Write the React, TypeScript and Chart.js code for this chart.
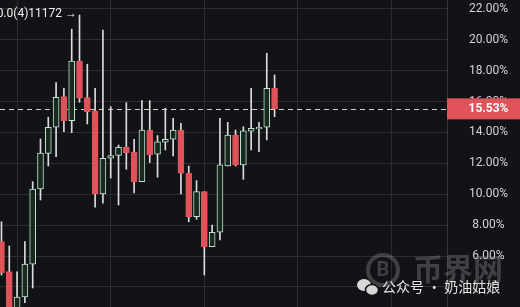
import React, { useEffect, useRef } from 'react';
import { Chart, registerables } from 'chart.js';

Chart.register(...registerables);

// ---- data (percent values) ----
const opens = [6.93, 4.99, 2.5, 3.35, 5.48, 10.34, 12.65, 14.34, 16.32, 14.77, 18.63, 16.26, 15.41, 10.02, 12.33, 12.52, 13.04, 12.74, 10.81, 14.16, 12.59, 13.37, 13.56, 14.16, 11.36, 8.55, 10.17, 6.61, 7.54, 11.83, 13.84, 11.9, 14.08, 14.23, 14.34, 16.86];
const highs = [8.22, 6.65, 4.97, 6.93, 10.81, 13.58, 14.99, 17.23, 16.86, 20.69, 21.61, 18.42, 16.86, 20.64, 15.67, 13.19, 15.93, 13.56, 16.06, 16.06, 13.8, 15.57, 14.92, 14.6, 11.83, 10.88, 10.17, 8.01, 14.92, 14.66, 14.16, 14.38, 16.86, 14.66, 19.13, 17.73];
const lows = [4.77, 2.3, 2.4, 2.98, 3.93, 9.63, 11.83, 12.43, 14.05, 13.99, 15.96, 14.55, 9.16, 9.42, 11.05, 9.31, 11.62, 10.08, 10.81, 12.05, 11.1, 12.87, 12.48, 10.02, 8.22, 8.38, 4.77, 6.61, 7.04, 11.83, 11.83, 10.97, 12.87, 12.76, 13.52, 15.02];
const closes = [4.92, 2.5, 3.35, 5.48, 10.34, 12.67, 14.34, 16.28, 14.77, 18.63, 16.22, 15.35, 10.02, 12.33, 12.5, 13.04, 12.69, 10.81, 14.16, 12.54, 13.39, 13.56, 14.16, 11.36, 8.55, 10.17, 6.61, 7.54, 11.9, 13.84, 11.9, 14.1, 14.27, 14.34, 16.86, 15.53];
const yTickValues = [4, 6, 8, 10, 12, 14, 16, 18, 20, 22];
const hiddenTickValues = [4];
const xGridSlots = [2, 14, 26, 38, 50];
const lastPrice = 15.53;
const lastPriceLabel = '15.53%';
const highMarkerLabel = '0.0(4)11172 →';
const watermarkBrand = '币界网';
const watermarkAccount = '公众号 · 奶油姑娘';

const BG = '#121316';
const GRID = '#2c2d31';
const RED = '#e0535a';
const GREEN_EDGE = '#bfe3cf';
const GREEN_FILL = '#18291f';
const WICK = '#dcdcdc';
const FONT = 'Roboto, "Noto Sans", sans-serif';
const CJK = '"Noto Sans CJK SC", "Noto Sans", sans-serif';

const overlay = {
  id: 'overlay',
  beforeDraw(chart: any) {
    const { ctx, width, height } = chart;
    ctx.save();
    ctx.fillStyle = BG;
    ctx.fillRect(0, 0, width, height);
    ctx.restore();
  },
  beforeDatasetsDraw(chart: any) {
    const { ctx, chartArea } = chart;
    const y = Math.round(chart.scales.y.getPixelForValue(lastPrice)) + 0.5;
    ctx.save();
    ctx.strokeStyle = 'rgba(245,225,225,0.9)';
    ctx.lineWidth = 1;
    ctx.setLineDash([5, 4]);
    ctx.beginPath();
    ctx.moveTo(chartArea.left, y);
    ctx.lineTo(chartArea.right, y);
    ctx.stroke();
    ctx.restore();
  },
  afterDraw(chart: any) {
    const { ctx, chartArea, width } = chart;
    const ys = chart.scales.y;
    const xs = chart.scales.x;
    ctx.save();
    // price box
    const py = ys.getPixelForValue(lastPrice);
    ctx.fillStyle = RED;
    ctx.fillRect(chartArea.right, py - 10.5, width - chartArea.right, 21);
    ctx.fillStyle = '#ffffff';
    ctx.font = `bold 12px ${FONT}`;
    ctx.textAlign = 'center';
    ctx.textBaseline = 'middle';
    ctx.fillText(lastPriceLabel, chartArea.right + 41.5, py + 0.5);

    // high marker
    let hi = 0;
    highs.forEach((h, i) => { if (h > highs[hi]) hi = i; });
    ctx.fillStyle = '#eeeeee';
    ctx.font = `12px ${FONT}`;
    ctx.textAlign = 'right';
    ctx.fillText(highMarkerLabel, xs.getPixelForValue(hi) - 2.5, ys.getPixelForValue(highs[hi]) - 0.5);

    // watermark
    ctx.strokeStyle = 'rgba(150,150,150,0.35)';
    ctx.lineWidth = 4;
    ctx.beginPath();
    ctx.arc(383, 270, 15, 0, Math.PI * 2);
    ctx.stroke();
    ctx.fillStyle = 'rgba(150,150,150,0.35)';
    ctx.font = `bold 20px ${FONT}`;
    ctx.textAlign = 'center';
    ctx.fillText('B', 383, 271);
    ctx.font = `bold 30px ${CJK}`;
    ctx.textAlign = 'left';
    ctx.fillText(watermarkBrand, 413, 269);
    // wechat icon
    ctx.fillStyle = '#d8d8d8';
    ctx.beginPath();
    ctx.ellipse(364, 285, 7, 6, 0, 0, Math.PI * 2);
    ctx.fill();
    ctx.strokeStyle = BG;
    ctx.lineWidth = 1.5;
    ctx.beginPath();
    ctx.ellipse(372, 290, 6.5, 5.5, 0, 0, Math.PI * 2);
    ctx.fill();
    ctx.stroke();
    ctx.fillStyle = '#e6e6e6';
    ctx.font = `14px ${CJK}`;
    ctx.textAlign = 'left';
    ctx.fillText(watermarkAccount, 382, 287);
    ctx.restore();
  },
};

export default function App() {
  const ref = useRef<HTMLCanvasElement | null>(null);

  useEffect(() => {
    if (!ref.current) return;
    const idx = opens.map((_, i) => i);
    const up = idx.map((i) => closes[i] >= opens[i]);
    const chart = new Chart(ref.current, {
      type: 'bar',
      data: {
        datasets: [
          {
            label: 'body',
            data: idx.map((i) => ({ x: i, y: [opens[i], closes[i]] })) as any,
            backgroundColor: idx.map((i) => (up[i] ? GREEN_FILL : RED)),
            borderColor: idx.map((i) => (up[i] ? GREEN_EDGE : RED)),
            borderWidth: 1,
            borderSkipped: false,
            barThickness: 6,
            grouped: false,
            order: 1,
          } as any,
          {
            label: 'wick',
            data: idx.map((i) => ({ x: i, y: [lows[i], highs[i]] })) as any,
            backgroundColor: WICK,
            borderWidth: 0,
            barThickness: 1,
            grouped: false,
            order: 2,
          } as any,
        ],
      },
      options: {
        responsive: false,
        animation: false,
        devicePixelRatio: 1,
        layout: { padding: 0, autoPadding: false },
        plugins: { legend: { display: false }, tooltip: { enabled: false } },
        scales: {
          x: {
            type: 'linear',
            min: -0.19,
            max: 57.1,
            offset: false,
            grid: { color: GRID, offset: false, drawTicks: false },
            border: { display: false },
            ticks: { display: false },
            afterBuildTicks: (s: any) => { s.ticks = xGridSlots.map((v) => ({ value: v })); },
            afterFit: (s: any) => { s.height = 0; s.paddingLeft = 0; s.paddingRight = 0; },
          },
          y: {
            type: 'linear',
            position: 'right',
            min: 2.7,
            max: 22.58,
            grid: { color: GRID, drawTicks: false },
            border: { display: true, color: '#35363a' },
            ticks: {
              color: '#d2d2d2',
              font: { family: FONT, size: 12 },
              padding: 22,
              crossAlign: 'center',
              callback: (v: any) => (hiddenTickValues.includes(Number(v)) ? '' : Number(v).toFixed(2) + '%'),
            },
            afterBuildTicks: (s: any) => { s.ticks = yTickValues.map((v) => ({ value: v })); },
            afterFit: (s: any) => { s.width = 73; s.paddingTop = 0; s.paddingBottom = 0; },
          },
        },
      } as any,
      plugins: [overlay],
    });
    return () => chart.destroy();
  }, []);

  return (
    <div style={{ position: 'fixed', left: 0, top: 0, width: 520, height: 307, background: BG }}>
      <canvas ref={ref} width={520} height={307} style={{ display: 'block', width: 520, height: 307 }} />
    </div>
  );
}
